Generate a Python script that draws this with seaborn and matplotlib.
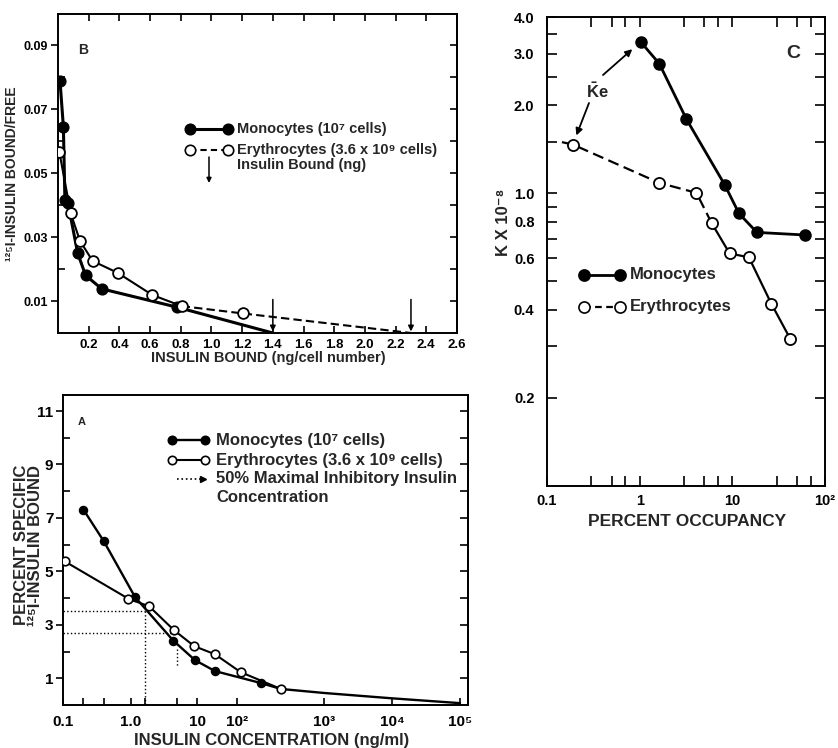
import numpy as np
import matplotlib
matplotlib.use("Agg")
import matplotlib.pyplot as plt
import seaborn as sns
from matplotlib.lines import Line2D
from matplotlib.ticker import NullFormatter

# ---------------- data ----------------
# Panel B : Scatchard plot
b_mono_x = [0.013, 0.035, 0.045, 0.065, 0.128, 0.18, 0.285, 0.773]
b_mono_y = [0.0788, 0.0645, 0.0416, 0.0406, 0.025, 0.018, 0.0138, 0.0081]
b_mono_intercept = 1.40
b_ery_x = [0.009, 0.083, 0.143, 0.226, 0.389, 0.614, 0.806, 1.207]
b_ery_y = [0.0565, 0.0374, 0.0288, 0.0225, 0.0188, 0.0119, 0.0084, 0.0061]
b_ery_intercept = 2.30
b_xticks = [0.2, 0.4, 0.6, 0.8, 1.0, 1.2, 1.4, 1.6, 1.8, 2.0, 2.2, 2.4, 2.6]
b_yticks = [0.01, 0.03, 0.05, 0.07, 0.09]
b_yminor = [0.02, 0.04, 0.06, 0.08]

# Panel A : competition curves
a_mono_x = [0.20, 0.40, 1.15, 4.37, 9.3, 28, 189]
a_mono_y = [7.31, 6.12, 4.04, 2.41, 1.68, 1.27, 0.82]
a_ery_x = [0.107, 0.91, 1.89, 4.48, 9.1, 28, 110, 320]
a_ery_y = [5.37, 3.98, 3.69, 2.80, 2.20, 1.90, 1.23, 0.60]
a_tail_x = [320, 1000, 10000, 100000]
a_tail_y = [0.60, 0.45, 0.25, 0.07]
a_half_y = [3.52, 2.68]          # 50 % maximal binding (monocytes, erythrocytes)
a_ic50_x = [1.63, 5.0]           # 50 % maximal inhibitory insulin concentration
a_xtick_vals = [0.1, 1, 10, 100, 1000, 10000, 100000]
a_xtick_labels = ['0.1', '1.0', '10', '10²', '10³', '10⁴', '10⁵']
a_yticks = [1, 3, 5, 7, 9, 11]
a_yminor = [2, 4, 6, 8, 10]

# Panel C : average affinity vs occupancy
c_mono_x = [1.025, 1.63, 3.2, 8.26, 11.8, 18.4, 61.4]
c_mono_y = [3.29, 2.77, 1.79, 1.07, 0.853, 0.735, 0.72]
c_ery_x = [0.19, 1.63, 4.1, 5.99, 9.35, 15.1, 26.3, 42]
c_ery_y = [1.467, 1.085, 1.003, 0.79, 0.623, 0.604, 0.42, 0.319]
c_ery_lead_x, c_ery_lead_y = 0.145, 1.495
c_xtick_vals = [0.1, 1, 10, 100]
c_xtick_labels = ['0.1', '1', '10', '10²']
c_xminor = [0.3, 0.5, 0.7, 3, 5, 7, 30, 50, 70]
c_ytick_vals = [0.2, 0.4, 0.6, 0.8, 1.0, 2.0, 3.0, 4.0]
c_ytick_labels = ['0.2', '0.4', '0.6', '0.8', '1.0', '2.0', '3.0', '4.0']
c_yminor = [0.3, 0.5, 0.7, 0.9, 1.5, 2.5, 3.5]

# ---------------- style ----------------
sns.set_style("ticks")
plt.rcParams['font.family'] = ['Liberation Sans', 'DejaVu Sans']
plt.rcParams['font.weight'] = 'bold'
plt.rcParams['mathtext.default'] = 'regular'
plt.rcParams['axes.linewidth'] = 1.4
plt.rcParams['axes.edgecolor'] = 'black'
plt.rcParams['xtick.color'] = 'black'
plt.rcParams['ytick.color'] = 'black'

W, H = 838, 748
fig = plt.figure(figsize=(W / 100, H / 100), dpi=100)
fig.patch.set_facecolor('white')


def add_ax(l, t, r, b):
    return fig.add_axes([l / W, 1 - b / H, (r - l) / W, (b - t) / H])


def ftext(x, y, s, **kw):
    kw.setdefault('fontweight', 'bold')
    fig.text(x / W, 1 - y / H, s, **kw)


def fline(xs, ys, **kw):
    fig.add_artist(Line2D([x / W for x in xs], [1 - y / H for y in ys],
                          transform=fig.transFigure, **kw))


def farrow(x0, y0, x1, y1, **kw):
    props = dict(arrowstyle='-|>', color='k', lw=1.1, mutation_scale=9,
                 shrinkA=0, shrinkB=0)
    props.update(kw)
    fig.add_artist(matplotlib.patches.FancyArrowPatch(
        (x0 / W, 1 - y0 / H), (x1 / W, 1 - y1 / H),
        transform=fig.transFigure, **props))


def legend_row(x0, x1, y, filled, ls, text, tx, fs, ms, lw):
    fline([x0, x1], [y, y], color='k', lw=lw, ls=ls)
    fline([x0, x1], [y, y], ls='none', marker='o', ms=ms,
          mfc='k' if filled else 'white', mec='k', mew=1.2)
    ftext(tx, y, text, fontsize=fs, va='center', ha='left')


# ================= Panel B =================
axB = add_ax(58, 14, 457, 333)
sns.lineplot(x=b_mono_x + [b_mono_intercept], y=b_mono_y + [0.0], ax=axB,
             color='k', linewidth=2.2, sort=False, estimator=None)
sns.lineplot(x=b_ery_x[:7], y=b_ery_y[:7], ax=axB, color='k',
             linewidth=1.5, sort=False, estimator=None)
sns.lineplot(x=b_ery_x[6:] + [b_ery_intercept], y=b_ery_y[6:] + [0.0], ax=axB,
             color='k', linewidth=1.5, sort=False, estimator=None,
             linestyle=(0, (4, 2)))
sns.scatterplot(x=b_mono_x, y=b_mono_y, ax=axB, s=60, color='k',
                edgecolor='k', linewidth=1, zorder=4)
sns.scatterplot(x=b_ery_x, y=b_ery_y, ax=axB, s=60, color='white',
                edgecolor='k', linewidth=1.3, zorder=5)
for xi in (b_mono_intercept, b_ery_intercept):
    axB.annotate('', xy=(xi, 0.0005), xytext=(0, 23), textcoords='offset points',
                 arrowprops=dict(arrowstyle='-|>', color='k', lw=1.1,
                                 mutation_scale=8, shrinkA=0, shrinkB=0))
axB.set_xlim(0, 2.6)
axB.set_ylim(0, 0.0997)
axB.set_xticks(b_xticks)
axB.set_xticklabels(['%.1f' % v for v in b_xticks], fontsize=9.5, fontweight='bold')
axB.set_yticks(b_yticks)
axB.set_yticklabels(['%.2f' % v for v in b_yticks], fontsize=9, fontweight='bold')
axB.set_yticks(b_yminor, minor=True)
axB.tick_params(axis='x', which='both', direction='in', top=True, length=5,
                width=1.2, pad=4)
axB.tick_params(axis='y', which='major', direction='out', length=5, width=1.2, pad=2)
axB.tick_params(axis='y', which='minor', direction='in', length=5, width=1.2)
secB = axB.secondary_yaxis('right')
secB.set_yticks(sorted(b_yticks + b_yminor))
secB.yaxis.set_major_formatter(NullFormatter())
secB.tick_params(direction='in', length=5, width=1.2)
axB.set_xlabel('')
axB.set_ylabel('')
ftext(83, 50, 'B', fontsize=10, ha='center', va='center')
ftext(268, 358, 'INSULIN BOUND (ng/cell number)', fontsize=10.5,
      ha='center', va='center')
ftext(12, 174, '¹²⁵I-INSULIN BOUND/FREE', fontsize=10, ha='center',
      va='center', rotation=90)
legend_row(190, 228, 129, True, '-', 'Monocytes (10⁷ cells)', 237, 10.5, 7.5, 2.2)
legend_row(190, 228, 150, False, (0, (3, 2)), 'Erythrocytes (3.6 x 10⁹ cells)',
           237, 10.5, 7.5, 1.5)
farrow(209, 157, 209, 183, mutation_scale=7)
ftext(237, 165, 'Insulin Bound (ng)', fontsize=10.5, va='center', ha='left')

# ================= Panel A =================
A_LOG = np.array([-1.0, 0.0, 1.0, 2.0, 3.0, 4.0, 5.12])
A_POS = np.array([0.0, 68.0, 134.0, 174.0, 261.0, 329.0, 405.0])


def a_fwd(x):
    x = np.asarray(x, float)
    lx = np.log10(np.where(x > 0, x, 1e-12))
    return np.interp(lx, A_LOG, A_POS)


def a_inv(p):
    return 10 ** np.interp(np.asarray(p, float), A_POS, A_LOG)


axA = add_ax(63, 395, 468, 705)
axA.set_xscale('function', functions=(a_fwd, a_inv))
sns.lineplot(x=a_mono_x + a_tail_x[:1], y=a_mono_y + a_tail_y[:1], ax=axA,
             color='k', linewidth=1.7, sort=False, estimator=None)
sns.lineplot(x=a_ery_x, y=a_ery_y, ax=axA, color='k', linewidth=1.5,
             sort=False, estimator=None)
sns.lineplot(x=a_tail_x, y=a_tail_y, ax=axA, color='k', linewidth=1.7,
             sort=False, estimator=None)
sns.scatterplot(x=a_mono_x, y=a_mono_y, ax=axA, s=34, color='k',
                edgecolor='k', linewidth=1, zorder=4)
sns.scatterplot(x=a_ery_x, y=a_ery_y, ax=axA, s=38, color='white',
                edgecolor='k', linewidth=1.2, zorder=5)
x_left = 0.1
axA.plot([x_left, a_ic50_x[0]], [a_half_y[0], a_half_y[0]], color='k', ls=':', lw=1.0)
axA.plot([a_ic50_x[0], a_ic50_x[0]], [a_half_y[0], 0], color='k', ls=':', lw=1.0)
axA.plot([x_left, a_ic50_x[1]], [a_half_y[1], a_half_y[1]], color='k', ls=':', lw=1.0)
axA.plot([a_ic50_x[1], a_ic50_x[1]], [2.1, 1.45], color='k', ls=':', lw=1.0)
axA.set_xlim(0.1, 10 ** 5.12)
axA.set_ylim(0, 11.6)
axA.set_xticks(a_xtick_vals)
axA.set_xticklabels(a_xtick_labels, fontsize=11, fontweight='bold')
axA.set_xticks([0.2, 0.4] + a_ic50_x, minor=True)
axA.xaxis.set_minor_formatter(NullFormatter())
axA.set_yticks(a_yticks)
axA.set_yticklabels([str(v) for v in a_yticks], fontsize=11, fontweight='bold')
axA.set_yticks(a_yminor, minor=True)
axA.tick_params(axis='x', which='both', direction='in', length=5, width=1.2, pad=7)
axA.tick_params(axis='y', which='major', direction='out', length=5, width=1.2, pad=2)
axA.tick_params(axis='y', which='minor', direction='in', length=5, width=1.2)
secA = axA.secondary_yaxis('right')
secA.set_yticks(sorted(a_yticks + a_yminor))
secA.yaxis.set_major_formatter(NullFormatter())
secA.tick_params(direction='in', length=6, width=1.2)
axA.set_xlabel('')
axA.set_ylabel('')
ftext(82, 422, 'A', fontsize=8, ha='center', va='center')
ftext(272, 740, 'INSULIN CONCENTRATION (ng/ml)', fontsize=12, ha='center', va='center')
ftext(21, 545, 'PERCENT SPECIFIC', fontsize=12, ha='center', va='center', rotation=90)
ftext(36, 545, '¹²⁵I-INSULIN BOUND', fontsize=12, ha='center', va='center', rotation=90)
legend_row(172, 205, 440, True, '-', 'Monocytes (10⁷ cells)', 216, 12, 6, 1.7)
legend_row(172, 205, 460, False, '-', 'Erythrocytes (3.6 x 10⁹ cells)', 216, 12, 6, 1.5)
fline([177, 202], [479, 479], color='k', ls=':', lw=1.2)
fline([203], [479], color='k', ls='none', marker='>', ms=4)
ftext(216, 479, '50% Maximal Inhibitory Insulin', fontsize=12, va='center', ha='left')
ftext(216, 498, 'Concentration', fontsize=12, va='center', ha='left')

# ================= Panel C =================
axC = add_ax(547, 17, 825, 486)
axC.set_xscale('log')
axC.set_yscale('log')
sns.lineplot(x=c_mono_x, y=c_mono_y, ax=axC, color='k', linewidth=2.0,
             sort=False, estimator=None)
sns.lineplot(x=[c_ery_lead_x] + c_ery_x[:4], y=[c_ery_lead_y] + c_ery_y[:4], ax=axC,
             color='k', linewidth=1.6, sort=False, estimator=None,
             linestyle=(0, (5, 2.5)))
sns.lineplot(x=c_ery_x[3:], y=c_ery_y[3:], ax=axC, color='k', linewidth=1.6,
             sort=False, estimator=None)
sns.scatterplot(x=c_mono_x, y=c_mono_y, ax=axC, s=64, color='k',
                edgecolor='k', linewidth=1, zorder=4)
sns.scatterplot(x=c_ery_x, y=c_ery_y, ax=axC, s=64, color='white',
                edgecolor='k', linewidth=1.3, zorder=5)
ftext(597, 91, r'$\bar{K}$e', fontsize=12, ha='center', va='center')
axC.annotate('', xy=(c_mono_x[0], c_mono_y[0]),
             xytext=(603, H - 75), textcoords='figure pixels',
             arrowprops=dict(arrowstyle='-|>', color='k', lw=1.3,
                             mutation_scale=10, shrinkA=0, shrinkB=8))
axC.annotate('', xy=(c_ery_x[0], c_ery_y[0]),
             xytext=(589, H - 103), textcoords='figure pixels',
             arrowprops=dict(arrowstyle='-|>', color='k', lw=1.3,
                             mutation_scale=10, shrinkA=0, shrinkB=7))
axC.set_xlim(0.1, 100)
axC.set_ylim(0.1, 4.0)
axC.set_xticks(c_xtick_vals)
axC.set_xticklabels(c_xtick_labels, fontsize=10.5, fontweight='bold')
axC.set_xticks(c_xminor, minor=True)
axC.xaxis.set_minor_formatter(NullFormatter())
axC.set_yticks(c_ytick_vals)
axC.set_yticklabels(c_ytick_labels, fontsize=10.5, fontweight='bold')
axC.set_yticks(c_yminor, minor=True)
axC.yaxis.set_minor_formatter(NullFormatter())
axC.tick_params(which='both', direction='in', top=True, right=True,
                length=7, width=1.2)
axC.tick_params(axis='y', which='both', pad=9)
axC.tick_params(axis='x', which='both', pad=6)
axC.set_xlabel('')
axC.set_ylabel('')
ftext(793, 53, 'C', fontsize=14, ha='center', va='center')
ftext(687, 522, 'PERCENT OCCUPANCY', fontsize=12.5, ha='center', va='center')
ftext(503, 222, 'K X 10⁻⁸', fontsize=12, ha='center', va='center', rotation=90)
legend_row(584, 620, 275, True, '-', 'Monocytes', 630, 12, 8, 2.0)
legend_row(584, 620, 307, False, (0, (3, 2)), 'Erythrocytes', 630, 12, 8, 1.6)

fig.savefig('out.png', dpi=100, facecolor='white')
